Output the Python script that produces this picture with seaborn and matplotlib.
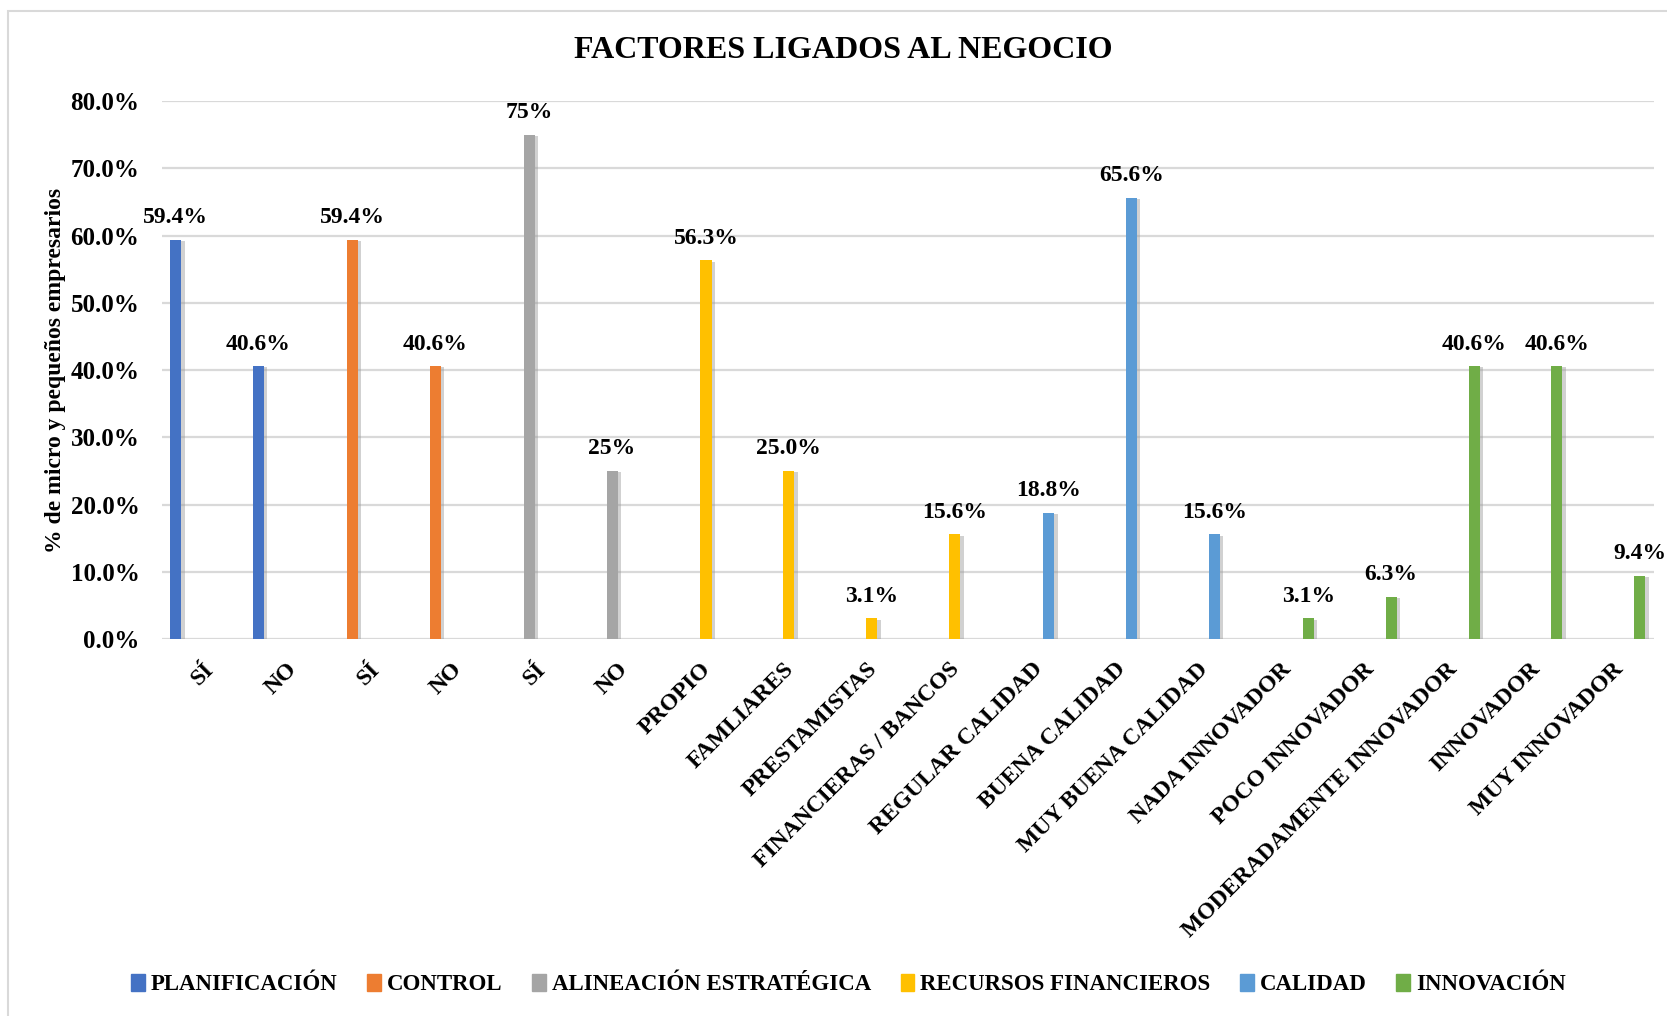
import numpy as np
import pandas as pd
import seaborn as sns
import matplotlib.pyplot as plt
import matplotlib.patheffects as pe
from matplotlib.patches import Rectangle

# data
grupos = ['PLANIFICACIÓN', 'CONTROL', 'ALINEACIÓN ESTRATÉGICA',
          'RECURSOS FINANCIEROS', 'CALIDAD', 'INNOVACIÓN']
colores = ['#4472C4', '#ED7D31', '#A5A5A5', '#FFC000', '#5B9BD5', '#70AD47']

etiquetas = ['SÍ', 'NO', 'SÍ', 'NO', 'SÍ', 'NO',
             'PROPIO', 'FAMLIARES', 'PRESTAMISTAS', 'FINANCIERAS / BANCOS',
             'REGULAR CALIDAD', 'BUENA CALIDAD', 'MUY BUENA CALIDAD',
             'NADA INNOVADOR', 'POCO INNOVADOR', 'MODERADAMENTE INNOVADOR',
             'INNOVADOR', 'MUY INNOVADOR']
grupo_de = ['PLANIFICACIÓN', 'PLANIFICACIÓN', 'CONTROL', 'CONTROL',
            'ALINEACIÓN ESTRATÉGICA', 'ALINEACIÓN ESTRATÉGICA',
            'RECURSOS FINANCIEROS', 'RECURSOS FINANCIEROS',
            'RECURSOS FINANCIEROS', 'RECURSOS FINANCIEROS',
            'CALIDAD', 'CALIDAD', 'CALIDAD',
            'INNOVACIÓN', 'INNOVACIÓN', 'INNOVACIÓN', 'INNOVACIÓN', 'INNOVACIÓN']
valores = [59.4, 40.6, 59.4, 40.6, 75.0, 25.0,
           56.3, 25.0, 3.1, 15.6,
           18.8, 65.6, 15.6,
           3.1, 6.3, 40.6, 40.6, 9.4]

df = pd.DataFrame({'pos': range(len(valores)), 'grupo': grupo_de,
                   'valor': np.array(valores) / 100})

fuente = 'Liberation Serif'
plt.rcParams['font.family'] = fuente
plt.rcParams['font.weight'] = 'bold'

fig = plt.figure(figsize=(16.67, 10.16), dpi=100)
ax = fig.add_axes([0.097, 0.371, 0.895, 0.5296])

sns.barplot(data=df, x='pos', y='valor', hue='grupo', hue_order=grupos,
            palette=colores, saturation=1, width=0.8, dodge=True, legend=True,
            ax=ax, linewidth=0)

ax.set_ylim(0, 0.8)
ax.set_yticks(np.arange(0, 0.81, 0.1))
ax.set_yticklabels([f'{t*100:.1f}%' for t in np.arange(0, 0.81, 0.1)],
                   fontsize=18, fontweight='bold')
ax.yaxis.grid(True, color='#d9d9d9', linewidth=1.6)
ax.set_axisbelow(True)
for s in ax.spines.values():
    s.set_visible(False)
ax.tick_params(length=0)
ax.tick_params(axis='y', pad=16)

ax.set_xticks(range(len(etiquetas)))
ax.set_xticklabels(etiquetas, rotation=45, ha='right', rotation_mode='anchor',
                   fontsize=17, fontweight='bold')
ax.tick_params(axis='x', pad=14)
ax.set_xlabel('')
ax.set_ylabel('% de micro y pequeños empresarios', fontsize=17, fontweight='bold')
ax.yaxis.set_label_coords(-0.064, 0.5)

# shadow + value labels
for bar in ax.patches:
    h = bar.get_height()
    if np.isnan(h) or bar.get_width() == 0 or h == 0:
        continue
    bar.set_path_effects([pe.SimplePatchShadow(offset=(2.5, -1), shadow_rgbFace='#9a9a9a', alpha=0.45),
                          pe.Normal()])
for cont, g in zip(ax.containers, grupos):
    for bar in cont:
        h = bar.get_height()
        if np.isnan(h) or h == 0:
            continue
        txt = f'{h*100:.0f}%' if g == 'ALINEACIÓN ESTRATÉGICA' else f'{h*100:.1f}%'
        ax.text(bar.get_x() + bar.get_width() / 2, h + 0.017, txt,
                ha='center', va='bottom', fontsize=17, fontweight='bold')

ax.legend_.remove()
handles = [Rectangle((0, 0), 1, 1, color=c) for c in colores]
fig.legend(handles, grupos, loc='center', bbox_to_anchor=(0.509, 0.031), ncol=6,
           frameon=False, handlelength=0.6, handleheight=0.8, handletextpad=0.25,
           columnspacing=1.3, prop={'family': fuente, 'weight': 'bold', 'size': 16.5})

fig.text(0.506, 1 - 50 / 1016, 'FACTORES LIGADOS AL NEGOCIO', ha='center', va='center',
         fontsize=23, fontweight='bold')

# chart area border (left/top visible)
fig.patches.append(Rectangle((8 / 1667, -0.01), 1.1, 1 - 11 / 1016 + 0.01,
                             transform=fig.transFigure, fill=False,
                             edgecolor='#d9d9d9', linewidth=1.5))

fig.savefig('out.png', dpi=100)
